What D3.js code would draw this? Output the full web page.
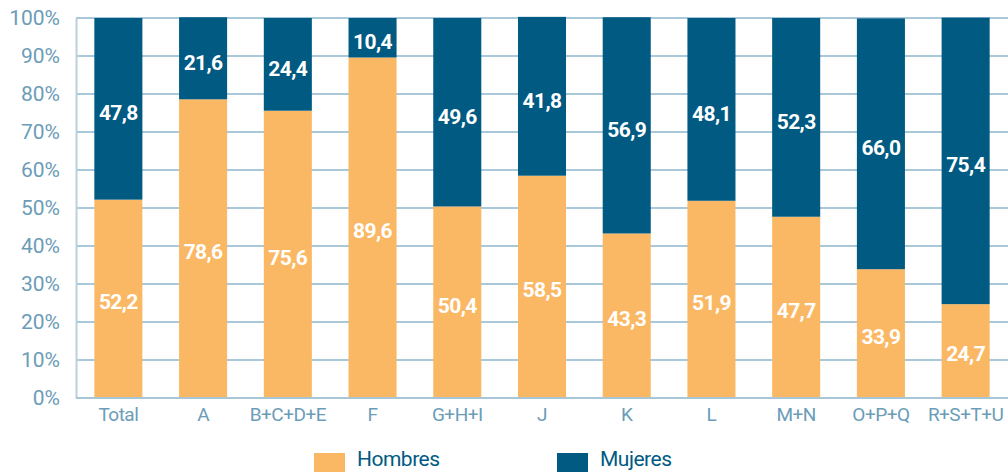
<!DOCTYPE html>
<html>
<head>
<meta charset="utf-8">
<script src="https://cdn.jsdelivr.net/npm/d3@7"></script>
<style>
  body { margin: 0; background: #fff; }
  svg text { font-family: Roboto, "Liberation Sans", sans-serif; }
</style>
</head>
<body>
<div id="chart"></div>
<script>
var categories = ["Total", "A", "B+C+D+E", "F", "G+H+I", "J", "K", "L", "M+N", "O+P+Q", "R+S+T+U"];
var hombres = [52.2, 78.6, 75.6, 89.6, 50.4, 58.5, 43.3, 51.9, 47.7, 33.9, 24.7];
var mujeres = [47.8, 21.6, 24.4, 10.4, 49.6, 41.8, 56.9, 48.1, 52.3, 66.0, 75.4];
var yTicks = [0, 10, 20, 30, 40, 50, 60, 70, 80, 90, 100];
var seriesNames = ["Hombres", "Mujeres"];

var width = 1008, height = 472;
var colHombres = "#fbb864", colMujeres = "#005a82";
var textCol = "#6b9cb8", gridCol = "#8cb6cc";

var svg = d3.select("#chart").append("svg")
	.attr("width", width)
	.attr("height", height);

var x = d3.scaleBand()
	.domain(categories)
	.range([76, 1008])
	.paddingInner(0.433)
	.paddingOuter(0.2165);

var y = d3.scaleLinear()
	.domain([0, 100])
	.range([398, 18]);

// gridlines
svg.append("g")
	.selectAll("line")
	.data(yTicks.filter(function(d) { return d > 0; }))
	.enter()
	.append("line")
	.attr("x1", 76)
	.attr("x2", width)
	.attr("y1", function(d) { return y(d); })
	.attr("y2", function(d) { return y(d); })
	.attr("stroke", gridCol)
	.attr("stroke-width", 1.3);

// y axis
var yAxis = svg.append("g")
	.attr("transform", "translate(76,0)")
	.call(d3.axisLeft(y).tickValues(yTicks).tickSize(0).tickPadding(16).tickFormat(function(d) { return d + "%"; }));
yAxis.select(".domain").attr("stroke", "#b9d0dd").attr("stroke-width", 2);
yAxis.selectAll("text").attr("fill", textCol).style("font-size", "21px")
	.style("font-family", "Roboto, sans-serif");

// bars
var data = categories.map(function(c, i) { return { cat: c, h: hombres[i], m: mujeres[i] }; });

var g = svg.append("g");
g.selectAll("rect.h")
	.data(data)
	.enter()
	.append("rect")
	.attr("class", "h")
	.attr("x", function(d) { return x(d.cat); })
	.attr("width", x.bandwidth())
	.attr("y", function(d) { return y(d.h); })
	.attr("height", function(d) { return y(0) - y(d.h); })
	.attr("fill", colHombres);

g.selectAll("rect.m")
	.data(data)
	.enter()
	.append("rect")
	.attr("class", "m")
	.attr("x", function(d) { return x(d.cat); })
	.attr("width", x.bandwidth())
	.attr("y", function(d) { return y(d.h + d.m); })
	.attr("height", function(d) { return y(d.h) - y(d.h + d.m); })
	.attr("fill", colMujeres);

// x axis baseline
svg.append("line")
	.attr("x1", 76).attr("x2", width)
	.attr("y1", y(0)).attr("y2", y(0))
	.attr("stroke", "#a9c6d6").attr("stroke-width", 2);

var xAxis = svg.append("g")
	.attr("transform", "translate(0," + y(0) + ")")
	.call(d3.axisBottom(x).tickSize(0).tickPadding(10));
xAxis.select(".domain").remove();
xAxis.selectAll("text").attr("fill", textCol).style("font-size", "19px")
	.style("letter-spacing", "-0.5px")
	.style("font-family", "Roboto, sans-serif");

var fmt = function(v) { return v.toFixed(1).replace(".", ","); };

// value labels
g.selectAll("text.lh")
	.data(data)
	.enter()
	.append("text")
	.attr("x", function(d) { return x(d.cat) + x.bandwidth() / 2; })
	.attr("y", function(d) { return (y(0) + y(d.h)) / 2 + 3; })
	.attr("dy", "0.35em")
	.attr("text-anchor", "middle")
	.attr("fill", "#fff")
	.style("font-size", "21px")
	.style("font-weight", "bold")
	.style("letter-spacing", "-0.6px")
	.text(function(d) { return fmt(d.h); });

g.selectAll("text.lm")
	.data(data)
	.enter()
	.append("text")
	.attr("x", function(d) { return x(d.cat) + x.bandwidth() / 2; })
	.attr("y", function(d) { return (y(d.h) + y(d.h + d.m)) / 2 + 4; })
	.attr("dy", "0.35em")
	.attr("text-anchor", "middle")
	.attr("fill", "#fff")
	.style("font-size", "21px")
	.style("font-weight", "bold")
	.style("letter-spacing", "-0.6px")
	.text(function(d) { return fmt(d.m); });

// legend
var legend = svg.append("g");
var legX = [314, 557];
seriesNames.forEach(function(name, i) {
	legend.append("rect")
		.attr("x", legX[i]).attr("y", 453)
		.attr("width", 31).attr("height", 22)
		.attr("fill", i == 0 ? colHombres : colMujeres);
	legend.append("text")
		.attr("x", legX[i] + 43).attr("y", 466)
		.attr("fill", colMujeres)
		.style("font-size", "21px")
		.style("letter-spacing", "-0.5px")
		.text(name);
});
</script>
</body>
</html>
